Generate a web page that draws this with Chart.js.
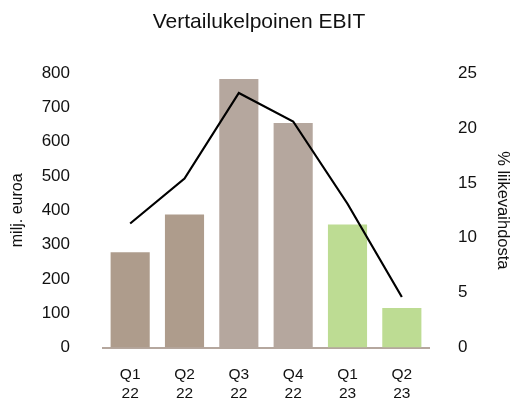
<!DOCTYPE html>
<html>
<head>
<meta charset="utf-8">
<script src="https://cdn.jsdelivr.net/npm/chart.js@4"></script>
<style>
html,body{margin:0;padding:0;background:#fff;}
#wrap{width:518px;height:403px;position:relative;}
</style>
</head>
<body>
<div id="wrap"><canvas id="c" width="518" height="403"></canvas></div>
<script>
const categories = [["Q1","22"],["Q2","22"],["Q3","22"],["Q4","22"],["Q1","23"],["Q2","23"]];
const ebitValues = [278, 388, 783, 655, 359, 115];
const marginValues = [11.3, 15.4, 23.2, 20.6, 13.1, 4.6];
const leftTicks = [0,100,200,300,400,500,600,700,800];
const rightTicks = [0,5,10,15,20,25];
const barColors = ["#AE9C8C","#AE9C8C","#B5A79E","#B5A79E","#BDDC93","#BDDC93"];

const FONT = "'Liberation Sans', Arial, sans-serif";
Chart.defaults.font.family = FONT;
Chart.defaults.color = "#111";

new Chart(document.getElementById('c'), {
  data: {
    labels: categories,
    datasets: [
      {
        type: 'line',
        label: '% liikevaihdosta',
        data: marginValues,
        yAxisID: 'y2',
        borderColor: '#000',
        borderWidth: 2.2,
        pointRadius: 0,
        tension: 0,
        fill: false,
        order: 0
      },
      {
        type: 'bar',
        label: 'milj. euroa',
        data: ebitValues,
        yAxisID: 'y',
        backgroundColor: barColors,
        borderWidth: 0,
        barPercentage: 0.72,
        categoryPercentage: 1.0,
        order: 1
      }
    ]
  },
  options: {
    responsive: false,
    animation: false,
    layout: { padding: 0 },
    plugins: {
      legend: { display: false },
      tooltip: { enabled: false },
      title: {
        display: true,
        text: 'Vertailukelpoinen EBIT',
        color: '#111',
        font: { size: 21, weight: 'normal', family: FONT },
        padding: { top: 10, bottom: 38 }
      }
    },
    scales: {
      x: {
        grid: { display: false, drawTicks: false },
        border: { display: true, color: '#B5A79E', width: 2 },
        ticks: { padding: 18, font: { size: 15.5 }, color: '#111', maxRotation: 0, autoSkip: false },
        afterFit: s => { s.height = 55.5; }
      },
      y: {
        position: 'left',
        min: 0, max: 800,
        afterBuildTicks: s => { s.ticks = leftTicks.map(v => ({ value: v })); },
        grid: { display: false, drawTicks: false },
        border: { display: false },
        ticks: { padding: 33, font: { size: 17 }, color: '#111' },
        title: { display: true, text: 'milj. euroa', color: '#111', font: { size: 16 }, padding: { top: 8, bottom: 0 } },
        afterFit: s => { s.width = 103; }
      },
      y2: {
        position: 'right',
        min: 0, max: 25,
        afterBuildTicks: s => { s.ticks = rightTicks.map(v => ({ value: v })); },
        grid: { display: false, drawTicks: false },
        border: { display: false },
        ticks: { padding: 29, font: { size: 17 }, color: '#111' },
        title: { display: true, text: '% liikevaihdosta', color: '#111', font: { size: 16.5 }, padding: { top: 6, bottom: 0 } },
        afterFit: s => { s.width = 89; }
      }
    }
  }
});
</script>
</body>
</html>
